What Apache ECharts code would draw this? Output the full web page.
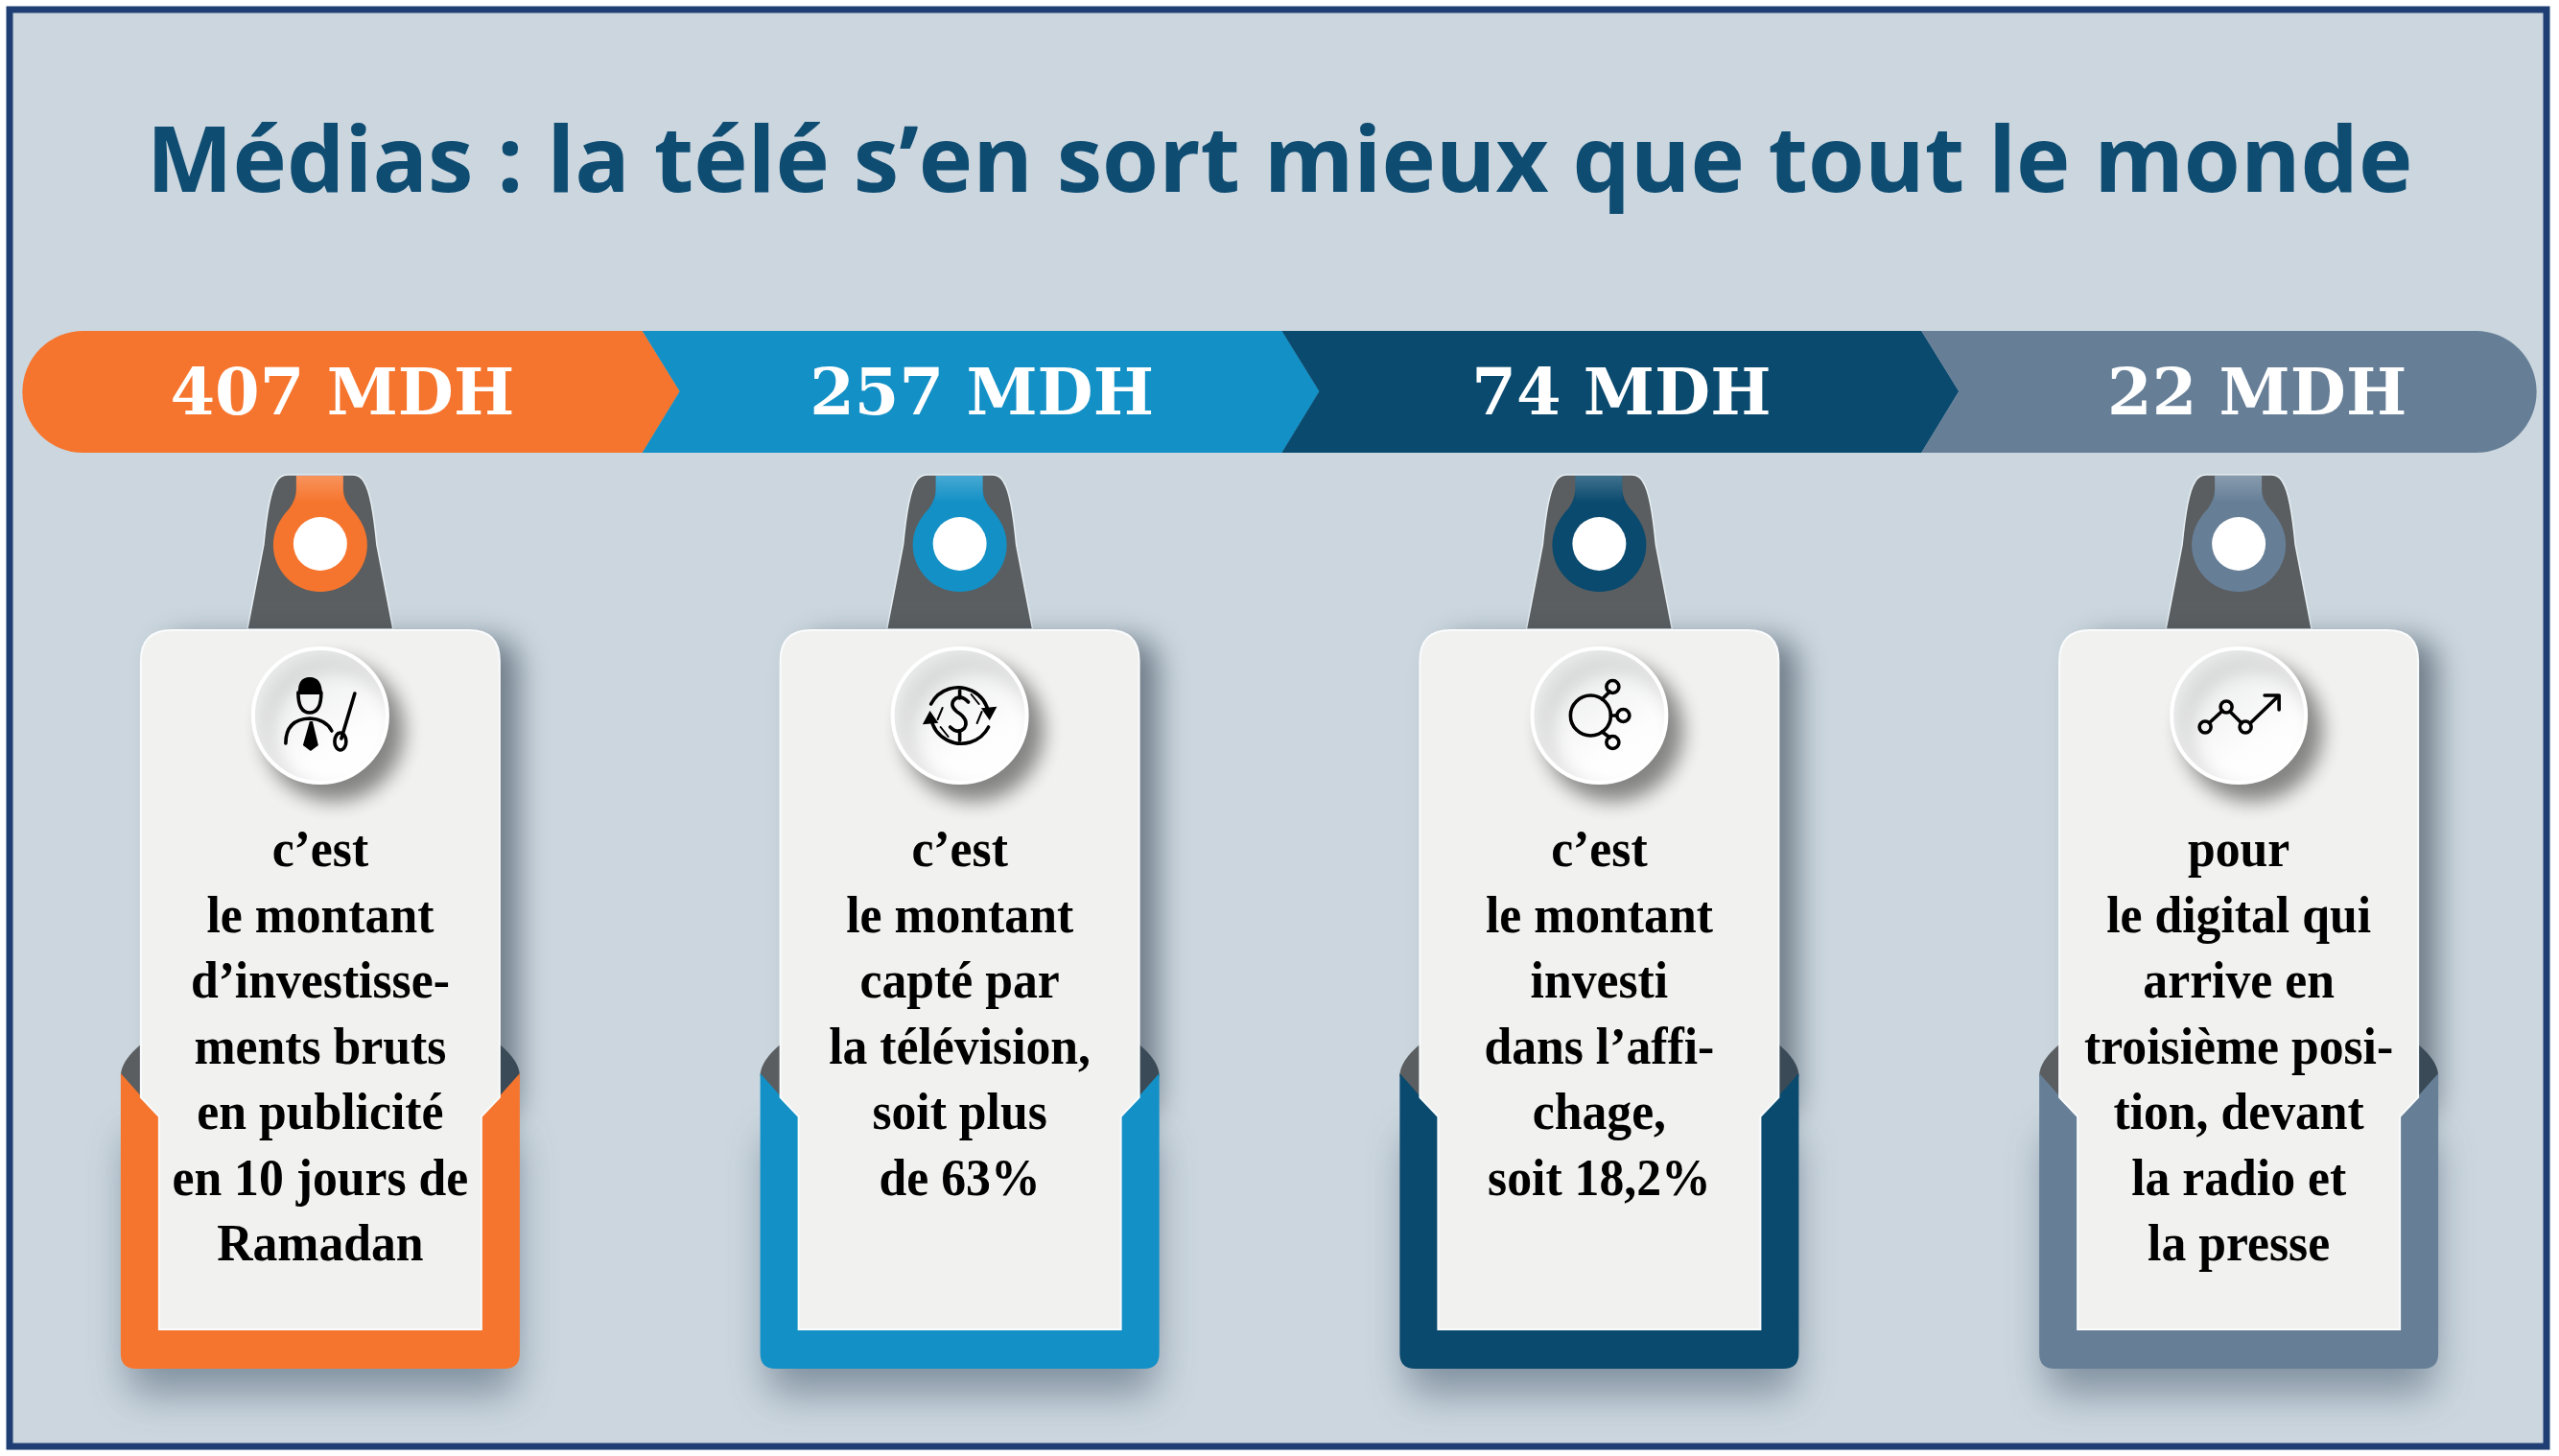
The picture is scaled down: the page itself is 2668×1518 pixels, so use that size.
<!DOCTYPE html>
<html><head><meta charset="utf-8">
<style>html,body{margin:0;padding:0;background:#fff}#c{width:2668px;height:1518px}</style>
<script src="https://cdn.jsdelivr.net/npm/echarts@6/dist/echarts.min.js"></script>
</head><body><div id="c"></div>
<script>
const titleText = 'Médias : la télé s’en sort mieux que tout le monde';
const amounts = [407, 257, 74, 22];
const unit = 'MDH';
const colors = ['#f6752e', '#1390c6', '#0a4a6e', '#667f97'];
const captions = [
  ['c’est', 'le montant', 'd’investisse-', 'ments bruts', 'en publicité', 'en 10 jours de', 'Ramadan'],
  ['c’est', 'le montant', 'capté par', 'la télévision,', 'soit plus', 'de 63%'],
  ['c’est', 'le montant', 'investi', 'dans l’affi-', 'chage,', 'soit 18,2%'],
  ['pour', 'le digital qui', 'arrive en', 'troisième posi-', 'tion, devant', 'la radio et', 'la presse']
];
const categories = amounts.map(a => a + ' ' + unit);

const BG = '#cbd6de', CARD = '#f1f1f0', GREY = '#5a5e60', INK = '#000';
const path = (d, style, extra) => Object.assign({ type: 'path', shape: { pathData: d }, style }, extra || {});
const line = { fill: null, stroke: INK, lineWidth: 3.6, lineCap: 'round', lineJoin: 'round' };

function pill(i, cx) {
  const t = 345, b = 472, m = 408, L = cx - 331, R = cx + 336, T = cx + 375;
  let d;
  if (i === 0) {
    const l = cx - 310;
    d = `M${l + 63} ${t}L${R} ${t}L${T} ${m}L${R} ${b}L${l + 63} ${b}A63 63 0 0 1 ${l + 63} ${t}Z`;
  } else if (i === 3) {
    const r = cx + 310;
    d = `M${L} ${t}L${r - 63} ${t}A63 63 0 0 1 ${r - 63} ${b}L${L} ${b}L${L + 39} ${m}Z`;
  } else {
    d = `M${L} ${t}L${R} ${t}L${T} ${m}L${R} ${b}L${L} ${b}L${L + 39} ${m}Z`;
  }
  return path(d, { fill: colors[i] });
}

function tag(i, cx) {
  const c = colors[i];
  const dark = `M${cx - 76} 656L${cx - 59} 568Q${cx - 54} 515 ${cx - 46} 503Q${cx - 42} 495 ${cx - 34} 495L${cx + 34} 495Q${cx + 42} 495 ${cx + 46} 503Q${cx + 54} 515 ${cx + 59} 568L${cx + 76} 656Z`;
  const loop = `M${cx - 25} 496L${cx + 24} 496L${cx + 24} 510Q${cx + 24} 520 ${cx + 32} 530Q${cx + 49} 548 ${cx + 49} 568A49 49 0 0 1 ${cx - 49} 568Q${cx - 49} 548 ${cx - 32} 530Q${cx - 25} 520 ${cx - 25} 510Z`;
  return [
    path(dark, { fill: GREY, stroke: '#e6eef3', lineWidth: 1.5 }),
    path(loop, { fill: c }),
    path(`M${cx - 25} 496L${cx + 24} 496L${cx + 24} 524L${cx - 25} 524Z`, {
      fill: { type: 'linear', x: 0, y: 0, x2: 0, y2: 1, colorStops: [{ offset: 0, color: 'rgba(255,255,255,0.22)' }, { offset: 1, color: 'rgba(255,255,255,0)' }] }
    }),
    { type: 'circle', shape: { cx, cy: 567, r: 28 }, style: { fill: '#fff' } }
  ];
}

function cardPath(cx) {
  const o = 187, n = 168;
  return `M${cx - o + 32} 657L${cx + o - 32} 657Q${cx + o} 657 ${cx + o} 689L${cx + o} 1144L${cx + n} 1164L${cx + n} 1386L${cx - n} 1386L${cx - n} 1164L${cx - o} 1144L${cx - o} 689Q${cx - o} 657 ${cx - o + 32} 657Z`;
}

function pocket(i, cx) {
  const o = 208, n = 168, r = 16;
  const body = `L${cx + o} ${1427 - r}Q${cx + o} 1427 ${cx + o - r} 1427L${cx - o + r} 1427Q${cx - o} 1427 ${cx - o} ${1427 - r}Z`;
  const d = `M${cx - o} 1119L${cx - n} 1164L${cx + n} 1164L${cx + o} 1119` + body;
  const solid = `M${cx - o + 30} 1160L${cx + o - 30} 1160L${cx + o - 6} 1160` + `L${cx + o - 6} ${1427 - r}Q${cx + o - 6} 1427 ${cx + o - 6 - r} 1427L${cx - o + 6 + r} 1427Q${cx - o + 6} 1427 ${cx - o + 6} ${1427 - r}L${cx - o + 6} 1160Z`;
  const wedgeL = `M${cx - 186} 1088Q${cx - o} 1106 ${cx - o} 1122L${cx - 180} 1152Z`;
  const wedgeR = `M${cx + 186} 1088Q${cx + o} 1106 ${cx + o} 1122L${cx + 180} 1152Z`;
  return { d, solid, wedgeL, wedgeR };
}

function icon(i, cx) {
  const y = 746;
  if (i === 0) return [
    path(`M${cx - 23} ${y - 22}Q${cx - 24} ${y - 40} ${cx - 11} ${y - 40}Q${cx + 2} ${y - 40} ${cx + 2} ${y - 22}Z`, { fill: INK }),
    path(`M${cx - 23} ${y - 24}Q${cx - 23} ${y - 3} ${cx - 11} ${y - 3}Q${cx + 1} ${y - 3} ${cx + 1} ${y - 24}`, line),
    path(`M${cx - 36} ${y + 29}Q${cx - 36} ${y + 4} ${cx - 11} ${y + 3}Q${cx + 6} ${y + 4} ${cx + 12} ${y + 16}`, line),
    path(`M${cx - 11} ${y + 6}L${cx - 18} ${y + 31}L${cx - 10} ${y + 37}L${cx - 2} ${y + 31}L${cx - 8} ${y + 6}Z`, { fill: INK }),
    path(`M${cx + 36} ${y - 23}L${cx + 22} ${y + 24}`, line),
    { type: 'ellipse', shape: { cx: cx + 21, cy: y + 27, rx: 6, ry: 9 }, style: line }
  ];
  if (i === 1) return [
    path(`M${cx - 30} ${y - 12}A32 32 0 0 1 ${cx + 30} ${y - 2}`, line),
    path(`M${cx + 24} ${y - 7}L${cx + 31} ${y + 3}L${cx + 37} ${y - 8}Z`, { fill: INK, stroke: INK, lineWidth: 2 }),
    path(`M${cx + 30} ${y + 12}A32 32 0 0 1 ${cx - 30} ${y + 2}`, line),
    path(`M${cx - 24} ${y + 7}L${cx - 31} ${y - 3}L${cx - 37} ${y + 8}Z`, { fill: INK, stroke: INK, lineWidth: 2 }),
    path(`M${cx + 9} ${y - 14}Q${cx + 3} ${y - 21} ${cx - 4} ${y - 18}Q${cx - 12} ${y - 12} ${cx - 3} ${y - 4}Q${cx + 10} ${y + 4} ${cx + 5} ${y + 13}Q${cx - 2} ${y + 20} ${cx - 10} ${y + 12}`, line),
    path(`M${cx} ${y - 26}L${cx} ${y - 18}M${cx} ${y + 18}L${cx} ${y + 26}`, line),
    path(`M${cx - 18} ${y - 8}L${cx - 23} ${y + 4}M${cx + 18} ${y + 8}L${cx + 23} ${y - 4}M${cx + 12} ${y - 22}L${cx + 20} ${y - 12}M${cx - 12} ${y + 22}L${cx - 20} ${y + 12}`, Object.assign({}, line, { lineWidth: 2 }))
  ];
  if (i === 2) return [
    { type: 'circle', shape: { cx: cx - 9, cy: y, r: 21 }, style: line },
    path(`M${cx + 3} ${y - 17}L${cx + 11} ${y - 25}M${cx + 12} ${y}L${cx + 18} ${y}M${cx + 3} ${y + 17}L${cx + 11} ${y + 23}`, line),
    { type: 'circle', shape: { cx: cx + 14, cy: y - 30, r: 6.5 }, style: line },
    { type: 'circle', shape: { cx: cx + 25, cy: y, r: 6.5 }, style: line },
    { type: 'circle', shape: { cx: cx + 14, cy: y + 28, r: 6.5 }, style: line }
  ];
  return [
    path(`M${cx - 30} ${y + 7}L${cx - 17} ${y - 5}M${cx - 9} ${y - 4}L${cx + 3} ${y + 8}M${cx + 12} ${y + 8}L${cx + 41} ${y - 20}M${cx + 27} ${y - 21}L${cx + 42} ${y - 21}L${cx + 42} ${y - 6}`, line),
    { type: 'circle', shape: { cx: cx - 35, cy: y + 12, r: 6 }, style: line },
    { type: 'circle', shape: { cx: cx - 13, cy: y - 9, r: 6 }, style: line },
    { type: 'circle', shape: { cx: cx + 7, cy: y + 12, r: 6 }, style: line }
  ];
}

function renderItem(params, api) {
  const i = api.value(0);
  const cx = api.coord([i, 0])[0] + 0.5;
  const p = pocket(i, cx);
  const kids = [];
  kids.push(pill(i, cx));
  kids.push({
    type: 'text', x: cx + (i === 3 ? 19 : 23), y: 415,
    style: { text: categories[i], fill: '#fff', fontFamily: 'DejaVu Serif', fontWeight: 'bold', fontSize: 67, align: 'center', verticalAlign: 'middle', textAlign: 'center', textVerticalAlign: 'middle' }
  });
  kids.push(...tag(i, cx));
  // soft shadow under the pocket, then the card's shadow to the right
  kids.push(path(p.solid, { fill: colors[i], shadowColor: 'rgba(70,90,110,0.55)', shadowBlur: 42, shadowOffsetX: 2, shadowOffsetY: 26 }));
  kids.push(path(cardPath(cx), { fill: CARD, shadowColor: 'rgba(50,65,80,0.6)', shadowBlur: 30, shadowOffsetX: 20, shadowOffsetY: 8 }));
  kids.push(path(p.wedgeL, { fill: GREY }));
  kids.push(path(p.wedgeR, { fill: '#3a4a56' }));
  kids.push(path(p.d, { fill: colors[i] }));
  kids.push(path(cardPath(cx), { fill: CARD, stroke: '#f9fbfc', lineWidth: 2 }));
  // medallion
  kids.push({
    type: 'circle', shape: { cx, cy: 746, r: 70 },
    style: {
      fill: { type: 'linear', x: 0.2, y: 0, x2: 0.8, y2: 1, colorStops: [{ offset: 0, color: '#e6e7e7' }, { offset: 0.7, color: '#fdfdfd' }, { offset: 1, color: '#ffffff' }] },
      stroke: '#fff', lineWidth: 4, shadowColor: 'rgba(0,0,0,0.45)', shadowBlur: 20, shadowOffsetX: 14, shadowOffsetY: 16
    }
  });
  kids.push(...icon(i, cx));
  captions[i].forEach((t, k) => kids.push({
    type: 'text', x: cx, y: 889 + k * 68.5, scaleX: 0.94,
    style: { text: t, fill: INK, fontFamily: 'Liberation Serif', fontWeight: 'bold', fontSize: 55, align: 'center', verticalAlign: 'middle', textAlign: 'center', textVerticalAlign: 'middle' }
  }));
  return { type: 'group', children: kids };
}

const chart = echarts.init(document.getElementById('c'), null, { renderer: 'canvas' });
chart.setOption({
  animation: false,
  backgroundColor: '#fff',
  title: {
    text: titleText, left: 'center', top: 120,
    textStyle: { color: '#0f4c72', fontFamily: 'Open Sans', fontWeight: 700, fontSize: 95.4 }
  },
  graphic: [{ type: 'rect', z: -10, shape: { x: 10, y: 10, width: 2645, height: 1498 }, style: { fill: BG, stroke: '#1f3e73', lineWidth: 7 } }],
  grid: { left: 0, top: 0, width: 2667, height: 1518 },
  xAxis: { type: 'category', data: categories, show: false },
  yAxis: { type: 'value', min: 0, max: 500, show: false },
  series: [{ type: 'custom', coordinateSystem: 'cartesian2d', clip: false, encode: { x: 0, y: 1 }, data: amounts.map((v, i) => [i, v]), renderItem }]
});
</script></body></html>
